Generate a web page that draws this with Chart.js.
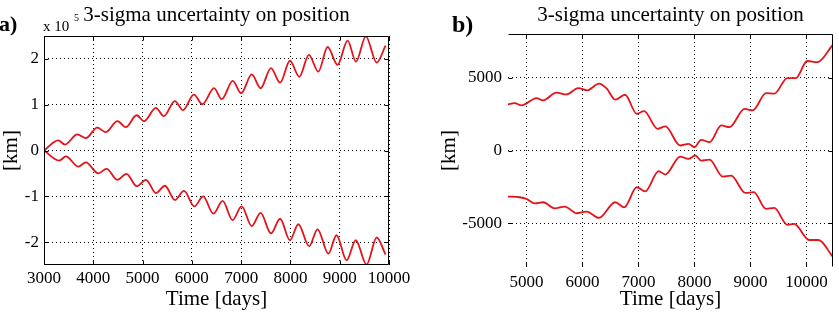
<!DOCTYPE html>
<html>
<head>
<meta charset="utf-8">
<script src="https://cdn.jsdelivr.net/npm/chart.js@4.4.0/dist/chart.umd.min.js"></script>
<style>
  html, body { margin: 0; padding: 0; background: #fff; }
  body { width: 839px; height: 312px; position: relative; overflow: hidden; }
  .panel { position: absolute; top: 0; height: 312px; }
  #panelA { left: 0; width: 420px; }
  #panelB { left: 420px; width: 419px; }
</style>
</head>
<body>
<div class="panel" id="panelA"><canvas id="chartA" width="420" height="312"></canvas></div>
<div class="panel" id="panelB"><canvas id="chartB" width="419" height="312"></canvas></div>
<script>
// Panel a) - valores en unidades de 1e5 km
const aUpperDays = [3000, 3290, 3425, 3675, 3850, 4080, 4250, 4490, 4660, 4880, 5030, 5270, 5430, 5655, 5820, 6040, 6215, 6450, 6605, 6830, 7000, 7215, 7395, 7605, 7790, 7990, 8180, 8375, 8565, 8755, 8955, 9160, 9330, 9530, 9750, 9930];
const aUpperVals = [0, 0.22, 0.13, 0.35, 0.27, 0.50, 0.40, 0.64, 0.51, 0.77, 0.64, 0.93, 0.75, 1.08, 0.88, 1.22, 1.01, 1.36, 1.12, 1.52, 1.25, 1.66, 1.36, 1.80, 1.48, 1.96, 1.61, 2.09, 1.72, 2.26, 1.87, 2.40, 1.94, 2.49, 1.92, 2.29];
const aLowerDays = [3000, 3310, 3445, 3695, 3850, 4100, 4270, 4485, 4675, 4880, 5070, 5270, 5455, 5655, 5840, 6050, 6230, 6435, 6625, 6825, 7010, 7215, 7395, 7605, 7790, 7990, 8160, 8380, 8550, 8770, 8935, 9140, 9325, 9545, 9750, 9930];
const aLowerVals = [0, -0.22, -0.13, -0.35, -0.26, -0.50, -0.40, -0.64, -0.51, -0.78, -0.64, -0.93, -0.77, -1.08, -0.88, -1.22, -1.00, -1.38, -1.10, -1.52, -1.22, -1.65, -1.36, -1.81, -1.49, -1.96, -1.61, -2.09, -1.72, -2.25, -1.85, -2.40, -1.96, -2.49, -1.90, -2.27];
const aXTicks = [3000, 4000, 5000, 6000, 7000, 8000, 9000, 10000];
const aYTicks = [-2, -1, 0, 1, 2];

// Panel b) - valores en km
const bUpperDays = [4670, 4790, 4910, 5180, 5295, 5535, 5715, 5925, 6085, 6295, 6435, 6585, 6760, 6970, 7100, 7340, 7480, 7745, 7895, 8000, 8120, 8270, 8480, 8625, 8895, 9040, 9280, 9425, 9660, 9810, 10015, 10195, 10470];
const bUpperVals = [3165, 3255, 3100, 3600, 3440, 3970, 3850, 4290, 4130, 4590, 4245, 3490, 3830, 2525, 2705, 1490, 1650, 345, 460, 230, 735, 575, 1720, 1600, 2865, 2750, 3945, 3900, 4975, 4975, 6145, 6075, 7250];
const bLowerDays = [4670, 4880, 5000, 5150, 5295, 5505, 5685, 5895, 6075, 6295, 6585, 6745, 6970, 7120, 7360, 7480, 7745, 7895, 8015, 8120, 8270, 8505, 8655, 8910, 9060, 9280, 9425, 9660, 9780, 10050, 10215, 10470];
const bLowerVals = [-3165, -3210, -3325, -3625, -3555, -3970, -3850, -4310, -4195, -4630, -3555, -3900, -2525, -2800, -1425, -1650, -415, -575, -345, -690, -620, -1790, -1720, -2910, -2865, -4010, -3945, -5110, -5045, -6145, -6145, -7290];
const bXTicks = [5000, 6000, 7000, 8000, 9000, 10000];
const bYTicks = [-5000, 0, 5000];

const titleText = "3-sigma uncertainty on position";
const xTitle = "Time [days]";
const yTitle = "[km]";

const SERIF = '"Liberation Serif", "Times New Roman", serif';
const RED = "#e3141b";

function toPoints(days, vals) {
  return days.map((d, i) => ({ x: d, y: vals[i] }));
}

// Marco estilo MATLAB, marcas hacia dentro y textos sueltos
const framePlugin = {
  id: "matlabFrame",
  afterDraw(chart, args, opts) {
    const { ctx, chartArea: a, scales } = chart;
    const L = Math.round(a.left) + 0.5, R = Math.round(a.right) - 0.5;
    const T = Math.round(a.top) + 0.5, B = Math.round(a.bottom) - 0.5;
    ctx.save();
    ctx.strokeStyle = "#000";
    ctx.lineWidth = 1;
    ctx.beginPath();
    if (opts.sides.includes("t")) { ctx.moveTo(L, T); ctx.lineTo(R, T); }
    if (opts.sides.includes("r")) { ctx.moveTo(R, T); ctx.lineTo(R, B); }
    if (opts.sides.includes("b")) { ctx.moveTo(L, B); ctx.lineTo(R, B); }
    if (opts.sides.includes("l")) { ctx.moveTo(L, T); ctx.lineTo(L, B); }
    const len = 4;
    scales.x.ticks.forEach(t => {
      const px = Math.round(scales.x.getPixelForValue(t.value)) + 0.5;
      ctx.moveTo(px, B); ctx.lineTo(px, B - len);
      ctx.moveTo(px, T); ctx.lineTo(px, T + len);
    });
    scales.y.ticks.forEach(t => {
      const py = Math.round(scales.y.getPixelForValue(t.value)) + 0.5;
      ctx.moveTo(L, py); ctx.lineTo(L + len, py);
      ctx.moveTo(R, py); ctx.lineTo(R - len, py);
    });
    ctx.stroke();

    ctx.fillStyle = "#000";
    ctx.textBaseline = "alphabetic";
    ctx.textAlign = "center";
    ctx.font = "21px " + SERIF;
    ctx.fillText(titleText, (a.left + a.right) / 2, 21);
    ctx.textAlign = "left";
    (opts.texts || []).forEach(s => {
      ctx.font = s.font;
      ctx.fillText(s.text, s.x, s.y);
    });
    ctx.restore();
  }
};

function makeChart(id, cfg) {
  const ctx = document.getElementById(id).getContext("2d");
  return new Chart(ctx, {
    type: "line",
    data: {
      datasets: cfg.series.map(pts => ({
        data: pts,
        borderColor: RED,
        borderWidth: 1.8,
        pointRadius: 0,
        cubicInterpolationMode: "monotone",
        fill: false
      }))
    },
    options: {
      responsive: false,
      animation: false,
      devicePixelRatio: 1,
      layout: { padding: cfg.padding },
      plugins: {
        legend: { display: false },
        tooltip: { enabled: false },
        matlabFrame: { sides: cfg.sides, texts: cfg.texts }
      },
      scales: {
        x: {
          type: "linear",
          min: cfg.xMin, max: cfg.xMax,
          grid: { color: "#000", lineWidth: 1, drawTicks: false },
          border: { display: false, dash: [1, 3] },
          afterBuildTicks: s => { s.ticks = cfg.xTicks.map(v => ({ value: v })); },
          ticks: {
            color: "#000", padding: cfg.xPad, autoSkip: false,
            font: { family: SERIF, size: 17 }, maxRotation: 0,
            callback: v => String(v)
          },
          title: {
            display: true, text: xTitle, color: "#000",
            font: { family: SERIF, size: 21, lineHeight: 1.1 }, padding: { bottom: cfg.xTitlePad, top: 0 }
          },
          afterFit: s => { s.height = cfg.xHeight; }
        },
        y: {
          type: "linear",
          min: cfg.yMin, max: cfg.yMax,
          grid: { color: "#000", lineWidth: 1, drawTicks: false },
          border: { display: false, dash: [1, 3] },
          afterBuildTicks: s => { s.ticks = cfg.yTicks.map(v => ({ value: v })); },
          ticks: {
            color: "#000", padding: cfg.yPad, autoSkip: false,
            font: { family: SERIF, size: 17 },
            callback: v => String(v)
          },
          title: {
            display: true, text: yTitle, color: "#000",
            font: { family: SERIF, size: 21, lineHeight: 1.1 }, padding: { top: cfg.yTitlePad, bottom: 0 }
          },
          afterFit: s => { s.width = cfg.yWidth; }
        }
      }
    },
    plugins: [framePlugin]
  });
}

makeChart("chartA", {
  series: [toPoints(aUpperDays, aUpperVals), toPoints(aLowerDays, aLowerVals)],
  xMin: 3000, xMax: 10000, yMin: -2.5, yMax: 2.5,
  xTicks: aXTicks, yTicks: aYTicks,
  padding: { top: 36, right: 31, bottom: 0, left: 0 },
  xHeight: 47, yWidth: 44, xPad: 3, yPad: 5, xTitlePad: 1, yTitlePad: 0,
  sides: "trbl",
  texts: [
    { text: "a)", x: -1, y: 31, font: "bold 22px " + SERIF },
    { text: "x 10", x: 43, y: 31, font: "15px " + SERIF },
    { text: "5", x: 74, y: 21, font: "10px " + SERIF }
  ]
});

makeChart("chartB", {
  series: [toPoints(bUpperDays, bUpperVals), toPoints(bLowerDays, bLowerVals)],
  xMin: 4670, xMax: 10475, yMin: -8000, yMax: 8000,
  xTicks: bXTicks, yTicks: bYTicks,
  padding: { top: 34, right: 6, bottom: 0, left: 0 },
  xHeight: 45, yWidth: 88, xPad: 5, yPad: 6, xTitlePad: 1, yTitlePad: 18,
  sides: "tr",
  texts: [
    { text: "b)", x: 32, y: 32, font: "bold 24px " + SERIF }
  ]
});
</script>
</body>
</html>
